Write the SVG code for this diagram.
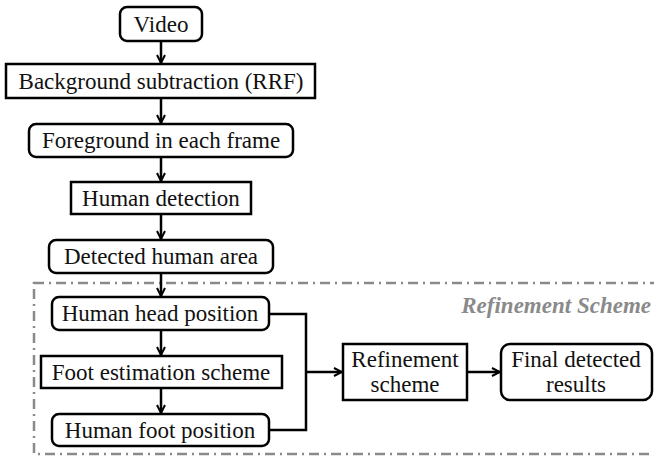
<svg xmlns="http://www.w3.org/2000/svg" width="654" height="456" viewBox="0 0 654 456">
<style>
.box{fill:#fff;stroke:#000;stroke-width:2.5}
.c{fill:none;stroke:#000;stroke-width:2.5}
</style>
<defs>
<marker id="ah" markerWidth="10" markerHeight="10" refX="9" refY="5" orient="auto" markerUnits="userSpaceOnUse">
<path d="M1,1 L9,5 L1,9" fill="none" stroke="#000" stroke-width="2"/>
</marker>
</defs>
<g id="frame">
<rect x="34" y="283" width="640" height="171" fill="none" stroke="#8a8a8a" stroke-width="2.5" stroke-dasharray="10,5,2,5"/>
<text font-family="Times New Roman" font-size="23" font-style="italic" font-weight="bold" fill="#8a8a8a" text-anchor="end" x="651" y="313">Refinement Scheme</text>
</g>
<g id="connectors">
<line class="c" x1="161" y1="41" x2="161" y2="63" marker-end="url(#ah)"/>
<line class="c" x1="161" y1="98" x2="161" y2="123" marker-end="url(#ah)"/>
<line class="c" x1="161" y1="157" x2="161" y2="181" marker-end="url(#ah)"/>
<line class="c" x1="161" y1="214" x2="161" y2="239" marker-end="url(#ah)"/>
<line class="c" x1="161" y1="273" x2="161" y2="296" marker-end="url(#ah)"/>
<line class="c" x1="161" y1="330" x2="161" y2="355" marker-end="url(#ah)"/>
<line class="c" x1="161" y1="388" x2="161" y2="413" marker-end="url(#ah)"/>
<polyline class="c" points="269,314 306,314 306,430 269,430"/>
<line class="c" x1="306" y1="372" x2="342" y2="372" marker-end="url(#ah)"/>
<line class="c" x1="467" y1="372" x2="500" y2="372" marker-end="url(#ah)"/>
</g>
<g id="nodes" font-family="Times New Roman" font-size="23" text-anchor="middle" fill="#111">
<g id="video"><rect class="box" x="120" y="7" width="82" height="34" rx="7"/><text x="161" y="32">Video</text></g>
<g id="background"><rect class="box" x="6" y="64" width="309" height="34"/><text x="161" y="89">Background subtraction (RRF)</text></g>
<g id="foreground"><rect class="box" x="29" y="124" width="264" height="33" rx="7"/><text x="161" y="148">Foreground in each frame</text></g>
<g id="human-detection"><rect class="box" x="71" y="182" width="180" height="32"/><text x="161" y="206">Human detection</text></g>
<g id="detected-area"><rect class="box" x="49" y="240" width="224" height="33" rx="7"/><text x="161" y="264">Detected human area</text></g>
<g id="head"><rect class="box" x="52" y="297" width="217" height="33" rx="7"/><text x="160" y="321">Human head position</text></g>
<g id="foot-est"><rect class="box" x="41" y="356" width="241" height="32"/><text x="161" y="380">Foot estimation scheme</text></g>
<g id="foot"><rect class="box" x="52" y="414" width="217" height="32" rx="7"/><text x="160" y="438">Human foot position</text></g>
<g id="refinement"><rect class="box" x="343" y="344" width="124" height="56"/><text x="405" y="367">Refinement</text><text x="405" y="392">scheme</text></g>
<g id="final"><rect class="box" x="501" y="344" width="151" height="56" rx="9"/><text x="576" y="367">Final detected</text><text x="576" y="392">results</text></g>
</g>
</svg>
